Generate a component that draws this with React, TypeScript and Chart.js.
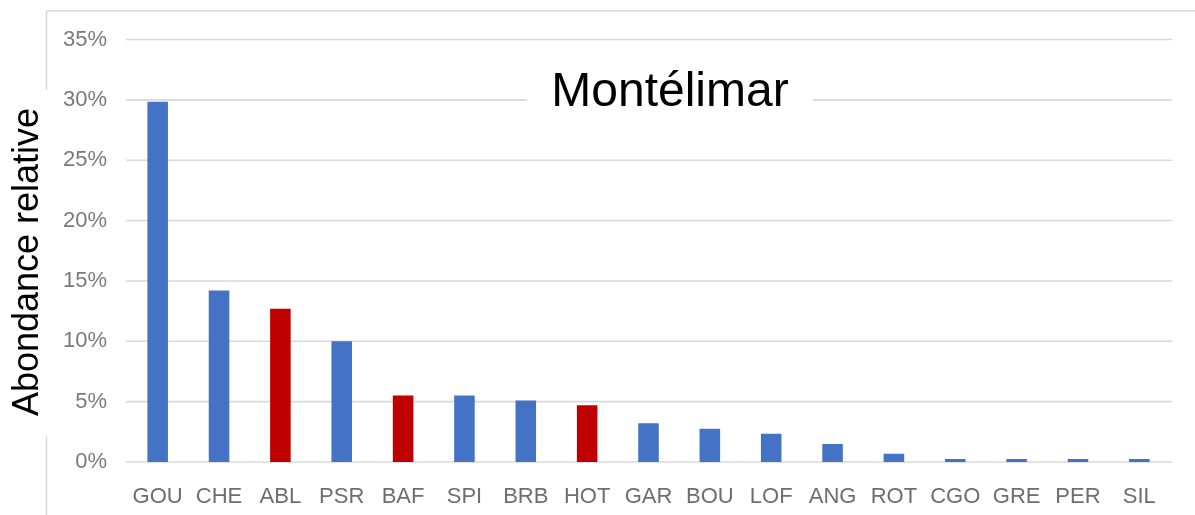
import React, { useEffect, useRef } from "react";
import { Chart, registerables } from "chart.js";

Chart.register(...registerables);

const categories = ["GOU", "CHE", "ABL", "PSR", "BAF", "SPI", "BRB", "HOT", "GAR", "BOU", "LOF", "ANG", "ROT", "CGO", "GRE", "PER", "SIL"];
const values = [0.2985, 0.142, 0.127, 0.1, 0.055, 0.055, 0.051, 0.047, 0.032, 0.0275, 0.0235, 0.015, 0.0068, 0.0025, 0.0025, 0.0025, 0.0025];
const highlighted = ["ABL", "BAF", "HOT"];
const yTicks = [0, 0.05, 0.1, 0.15, 0.2, 0.25, 0.3, 0.35];
const titleText = "Montélimar";
const yAxisLabel = "Abondance relative";

const BLUE = "#4472C4";
const RED = "#C00000";
const GRID = "#d9d9d9";
const FONT = "'Liberation Sans', Arial, Helvetica, sans-serif";

const decorPlugin = {
  id: "decor",
  beforeDatasetsDraw(chart: any) {
    const ctx = chart.ctx;
    const area = chart.chartArea;
    const ys = chart.scales.y;
    ctx.save();
    // frame
    ctx.strokeStyle = GRID;
    ctx.lineWidth = 1.5;
    ctx.beginPath();
    ctx.moveTo(46.5, 11);
    ctx.lineTo(chart.width, 11);
    ctx.moveTo(46.5, 11);
    ctx.lineTo(46.5, 90);
    ctx.moveTo(46.5, 436);
    ctx.lineTo(46.5, chart.height);
    ctx.stroke();
    // gridlines
    ctx.strokeStyle = GRID;
    ctx.lineWidth = 1.6;
    yTicks.forEach((t) => {
      const y = ys.getPixelForValue(t);
      ctx.beginPath();
      ctx.moveTo(area.left - 1, y);
      ctx.lineTo(area.right + 2, y);
      ctx.stroke();
    });
    // title with white backing
    const ty = ys.getPixelForValue(0.3) - 7;
    ctx.font = `48px ${FONT}`;
    const w = ctx.measureText(titleText).width;
    const cx = 670;
    ctx.fillStyle = "#ffffff";
    ctx.fillRect(cx - w / 2 - 24, ty - 30, w + 48, 62);
    ctx.fillStyle = "#000000";
    ctx.textAlign = "center";
    ctx.textBaseline = "middle";
    ctx.fillText(titleText, cx, ty);
    // y axis label
    ctx.translate(28, 262);
    ctx.rotate(-Math.PI / 2);
    ctx.font = `36px ${FONT}`;
    ctx.fillStyle = "#000000";
    ctx.textAlign = "center";
    ctx.textBaseline = "middle";
    ctx.fillText(yAxisLabel, 0, 0);
    ctx.restore();
  },
};

export default function App() {
  const ref = useRef<HTMLCanvasElement>(null);
  useEffect(() => {
    if (!ref.current) return;
    const chart = new Chart(ref.current, {
      type: "bar",
      data: {
        labels: categories,
        datasets: [
          {
            data: values,
            backgroundColor: categories.map((c) => (highlighted.includes(c) ? RED : BLUE)),
            barPercentage: 0.335,
            categoryPercentage: 1,
          },
        ],
      },
      options: {
        responsive: false,
        animation: false,
        layout: { padding: { top: 39.5, right: 25, bottom: 0, left: 0 } },
        plugins: { legend: { display: false }, title: { display: false }, tooltip: { enabled: false } },
        scales: {
          x: {
            grid: { display: false },
            border: { display: false },
            ticks: { color: "#6e6e6e", font: { family: FONT, size: 22 }, padding: 14, maxRotation: 0, autoSkip: false },
            afterFit: (s: any) => {
              s.height = 53;
            },
          },
          y: {
            min: 0,
            max: 0.35,
            grid: { display: false },
            border: { display: false },
            afterBuildTicks: (s: any) => {
              s.ticks = yTicks.map((v) => ({ value: v }));
            },
            ticks: {
              color: "#7a7a7a",
              font: { family: FONT, size: 22 },
              padding: 12,
              callback: (v: any) => Math.round(Number(v) * 100) + "%",
            },
            afterFit: (s: any) => {
              s.width = 127;
            },
          },
        },
      },
      plugins: [decorPlugin],
    });
    return () => chart.destroy();
  }, []);
  return (
    <div style={{ position: "absolute", left: 0, top: 0, width: 1195, height: 515, background: "#fff" }}>
      <canvas ref={ref} width={1195} height={515} />
    </div>
  );
}
